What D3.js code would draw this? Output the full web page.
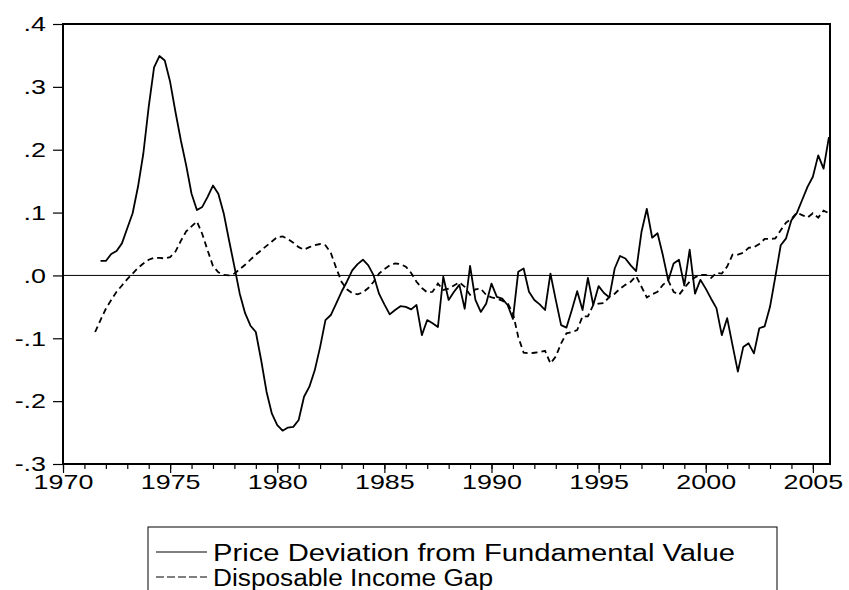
<!DOCTYPE html>
<html>
<head>
<meta charset="utf-8">
<script src="https://cdn.jsdelivr.net/npm/d3@7"></script>
<style>
body { margin: 0; background: #fff; }
text { font-family: Arial, "Liberation Sans", sans-serif; fill: #000; }
</style>
</head>
<body>
<svg width="849" height="590"></svg>
<script>
// quarterly data, first observation of each series
let priceStart = 1971.75   // 1971Q4
let gapStart = 1971.5      // 1971Q3

// Price Deviation from Fundamental Value, 1971Q4 - 2005Q4
let priceDev = [
  0.023,
  0.023, 0.034, 0.039, 0.051,
  0.075, 0.099, 0.141, 0.194,
  0.268, 0.331, 0.349, 0.342,
  0.308, 0.260, 0.215, 0.175,
  0.130, 0.104, 0.109, 0.125,
  0.143, 0.130, 0.099, 0.056,
  0.014, -0.029, -0.060, -0.080,
  -0.090, -0.135, -0.185, -0.220,
  -0.238, -0.247, -0.242, -0.241,
  -0.230, -0.193, -0.177, -0.151,
  -0.114, -0.071, -0.063, -0.045,
  -0.026, -0.010, 0.008, 0.018,
  0.025, 0.016, 0.000, -0.029,
  -0.046, -0.062, -0.055, -0.049,
  -0.050, -0.054, -0.047, -0.095,
  -0.071, -0.076, -0.082, -0.002,
  -0.039, -0.026, -0.015, -0.053,
  0.015, -0.039, -0.058, -0.045,
  -0.013, -0.034, -0.037, -0.047,
  -0.069, 0.006, 0.011, -0.026,
  -0.039, -0.046, -0.055, 0.003,
  -0.039, -0.079, -0.083, -0.055,
  -0.025, -0.055, -0.004, -0.047,
  -0.017, -0.028, -0.035, 0.011,
  0.031, 0.027, 0.016, 0.007,
  0.069, 0.106, 0.060, 0.067,
  0.032, -0.008, 0.019, 0.025,
  -0.016, 0.041, -0.029, -0.007,
  -0.021, -0.037, -0.052, -0.095,
  -0.068, -0.111, -0.153, -0.114,
  -0.108, -0.124, -0.084, -0.081,
  -0.050, -0.002, 0.048, 0.059,
  0.088, 0.099, 0.120, 0.141,
  0.157, 0.191, 0.170, 0.220
]

// Disposable Income Gap, 1971Q3 - 2005Q4
let incomeGap = [
  -0.090, -0.071,
  -0.053, -0.039, -0.026, -0.016,
  -0.006, 0.003, 0.012, 0.019,
  0.025, 0.028, 0.028, 0.027,
  0.029, 0.038, 0.055, 0.070,
  0.078, 0.086, 0.066, 0.040,
  0.015, 0.005, 0.001, 0.000,
  0.003, 0.010, 0.017, 0.025,
  0.033, 0.040, 0.047, 0.054,
  0.061, 0.062, 0.058, 0.052,
  0.045, 0.041, 0.045, 0.048,
  0.050, 0.048, 0.036, 0.012,
  -0.010, -0.022, -0.028, -0.030,
  -0.027, -0.020, -0.010, 0.003,
  0.010, 0.016, 0.019, 0.018,
  0.014, 0.004, -0.010, -0.020,
  -0.027, -0.026, -0.013, -0.023,
  -0.021, -0.016, -0.011, -0.018,
  -0.031, -0.022, -0.021, -0.031,
  -0.035, -0.037, -0.040, -0.044,
  -0.060, -0.098, -0.123, -0.124,
  -0.123, -0.122, -0.120, -0.140,
  -0.129, -0.108, -0.092, -0.090,
  -0.087, -0.065, -0.065, -0.047,
  -0.045, -0.044, -0.034, -0.029,
  -0.021, -0.015, -0.010, -0.001,
  -0.018, -0.035, -0.030, -0.026,
  -0.015, -0.008, -0.026, -0.031,
  -0.020, -0.010, -0.003, 0.001,
  0.001, -0.004, 0.004, 0.003,
  0.014, 0.033, 0.033, 0.036,
  0.044, 0.045, 0.050, 0.058,
  0.058, 0.059, 0.072, 0.084,
  0.090, 0.100, 0.096, 0.092,
  0.099, 0.092, 0.103, 0.099
]

let yTicks = [0.4, 0.3, 0.2, 0.1, 0, -0.1, -0.2, -0.3]
let yLabels = [".4", ".3", ".2", ".1", ".0", "-.1", "-.2", "-.3"]
let xYears = d3.range(1970, 2006)
let xMajor = [1970, 1975, 1980, 1985, 1990, 1995, 2000, 2005]
let legendNames = ["Price Deviation from Fundamental Value", "Disposable Income Gap"]

let svg = d3.select("svg")

let xScale = d3.scaleLinear()
  .domain([1970, 2005.8])
  .range([63, 830])

let yScale = d3.scaleLinear()
  .domain([-0.3, 0.4])
  .range([464, 24])

let stretch = 1.28  // labels in the original are wide

// minor year ticks
svg.append("g")
  .attr("transform", "translate(0,464)")
  .call(d3.axisBottom(xScale).tickValues(xYears).tickSize(5).tickFormat(""))
  .call(g => g.select(".domain").remove())
  .selectAll("line").attr("stroke", "#000").attr("stroke-width", 1.2)

// major ticks + labels
let xAxis = svg.append("g")
  .attr("transform", "translate(0,464)")
  .call(d3.axisBottom(xScale).tickValues(xMajor).tickSize(9).tickPadding(1).tickFormat(d3.format("d")))
xAxis.select(".domain").remove()
xAxis.selectAll("line").attr("stroke", "#000").attr("stroke-width", 1.2)
xAxis.selectAll("text")
  .attr("font-size", 21)
  .attr("transform", `scale(${stretch},1)`)

let yAxis = svg.append("g")
  .attr("transform", "translate(63,0)")
  .call(d3.axisLeft(yScale).tickValues(yTicks).tickSize(10)
    .tickFormat((d, i) => yLabels[i]))
yAxis.select(".domain").remove()
yAxis.selectAll("line").attr("stroke", "#000").attr("stroke-width", 1.2)
yAxis.selectAll("text")
  .attr("font-size", 21)
  .attr("x", -17 / stretch)
  .attr("transform", `scale(${stretch},1)`)

// zero line
svg.append("line")
  .attr("x1", xScale.range()[0]).attr("x2", xScale.range()[1])
  .attr("y1", yScale(0)).attr("y2", yScale(0))
  .attr("stroke", "#000").attr("stroke-width", 1)

let line = d3.line()
  .x(d => xScale(d.t))
  .y(d => yScale(d.v))

let priceData = priceDev.map((v, i) => ({ t: priceStart + i / 4, v: v }))
let gapData = incomeGap.map((v, i) => ({ t: gapStart + i / 4, v: v }))

svg.append("path")
  .datum(gapData)
  .attr("d", line)
  .attr("fill", "none")
  .attr("stroke", "#000")
  .attr("stroke-width", 1.8)
  .attr("stroke-dasharray", "6,4")

svg.append("path")
  .datum(priceData)
  .attr("d", line)
  .attr("fill", "none")
  .attr("stroke", "#000")
  .attr("stroke-width", 1.8)
  .attr("stroke-linejoin", "round")

// frame
svg.append("rect")
  .attr("x", 63).attr("y", 24)
  .attr("width", 830 - 63).attr("height", 464 - 24)
  .attr("fill", "none")
  .attr("stroke", "#000")
  .attr("stroke-width", 2)

// legend
let legendWidths = [522, 280]
let legend = svg.append("g")
legend.append("rect")
  .attr("x", 148).attr("y", 527)
  .attr("width", 777 - 148).attr("height", 80)
  .attr("fill", "none").attr("stroke", "#000").attr("stroke-width", 1)

legendNames.forEach((name, i) => {
  let y = 552 + i * 25
  legend.append("line")
    .attr("x1", 156).attr("x2", 207)
    .attr("y1", y).attr("y2", y)
    .attr("stroke", "#000").attr("stroke-width", 1.2)
    .attr("stroke-dasharray", i == 1 ? "8,3" : null)
  legend.append("text")
    .attr("x", 213).attr("y", y + 8.5)
    .attr("font-size", 23)
    .attr("textLength", legendWidths[i])
    .attr("lengthAdjust", "spacingAndGlyphs")
    .text(name)
})
</script>
</body>
</html>
